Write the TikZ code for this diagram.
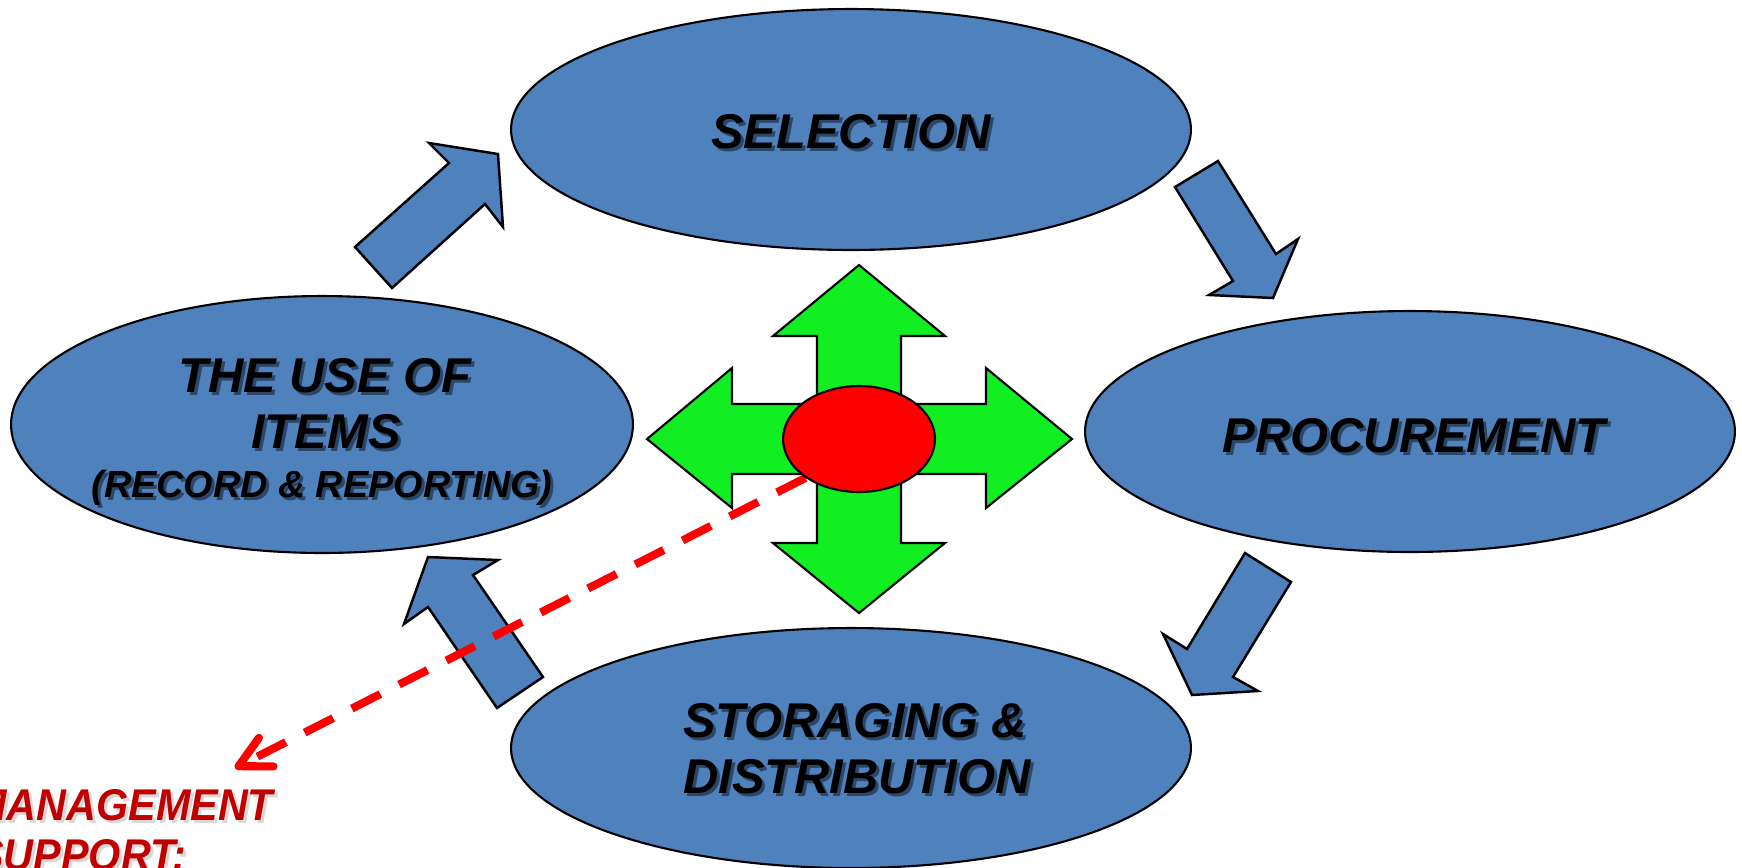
\documentclass[tikz,border=0pt]{standalone}
\usepackage{fontspec}
\setmainfont{Liberation Sans}
\newfontfamily\mgmtfont[FakeStretch=0.93]{Liberation Sans}
\usetikzlibrary{shapes.geometric,arrows.meta}
\definecolor{ovalblue}{RGB}{79,129,189}
\definecolor{crossgreen}{RGB}{17,238,34}
\definecolor{mgmtred}{RGB}{192,0,0}
\newcommand\shlabel[5][0.45]{%
  \node[#4,text=black,text opacity=#1,shift={(3,3)}] at (#3) {#5};
  \node[#4] (#2) at (#3) {#5};}
\tikzset{
  oval/.style={ellipse, draw=black, line width=1.2pt, fill=ovalblue, inner sep=0pt},
  flowarrow/.style={draw=black, line width=1.4pt, fill=ovalblue, line join=miter},
  crossarrow/.style={draw=black, line width=1.2pt, fill=crossgreen, line join=miter},
  core/.style={ellipse, draw=black, line width=1.2pt, fill=red, inner sep=0pt,
    minimum width=3.04cm, minimum height=2.12cm},
  lbl/.style={inner sep=0pt, anchor=base, font=\bfseries\itshape\fontsize{27.8pt}{32pt}\selectfont},
  lblsmall/.style={inner sep=0pt, anchor=base, font=\bfseries\itshape\fontsize{21.5pt}{25pt}\selectfont},
  mgmt/.style={inner sep=0pt, anchor=base west, text=mgmtred, font=\mgmtfont\bfseries\itshape\fontsize{25.3pt}{29pt}\selectfont},
  mgmtline/.style={red, line width=4.6pt, dash pattern=on 0.64cm off 0.42cm,
    -{Straight Barb[length=0.62cm, width=0.64cm, round]}}
}
\begin{document}
\begin{tikzpicture}[x=0.02cm, y=-0.02cm]
\useasboundingbox (0,0) rectangle (1742,867);
\clip (0,0) rectangle (1742,867);

% ovals
\node[oval, minimum width=13.6cm, minimum height=4.82cm] (sel) at (851,129.5) {};
\node[oval, minimum width=12.44cm, minimum height=5.14cm] (use) at (322,424.5) {};
\node[oval, minimum width=13.0cm, minimum height=4.82cm] (proc) at (1410,431.5) {};
\node[oval, minimum width=13.6cm, minimum height=4.8cm] (stor) at (851,748) {};

% cycle arrows
\draw[flowarrow] (355,247) -- (449,163) -- (429,143) -- (498,154) -- (503,227) -- (485,204) -- (392,288) -- cycle;
\draw[flowarrow] (1218,161) -- (1175,187) -- (1233,281) -- (1209,295) -- (1273,298) -- (1298,239) -- (1276,254) -- cycle;
\draw[flowarrow] (1245,553) -- (1291,582) -- (1233,677) -- (1258,691) -- (1192,695) -- (1163,634) -- (1187,649) -- cycle;
\draw[flowarrow] (428,557) -- (498,560) -- (473,575) -- (543,677) -- (497,708) -- (428,607) -- (404,624) -- cycle;

% green four-way arrow
\draw[crossarrow] (859,265) -- (945,336) -- (901,336) -- (901,404) -- (986,404) -- (986,368)
  -- (1072,439) -- (986,508) -- (986,474) -- (901,474) -- (901,543) -- (945,543)
  -- (859,613) -- (773,543) -- (817,543) -- (817,474) -- (732,474) -- (732,508)
  -- (647,439) -- (732,368) -- (732,404) -- (817,404) -- (817,336) -- (773,336) -- cycle;

% red core and dashed connector
\coordinate (corepos) at (859,439);
\coordinate (mgmttip) at (235,768);
\node[core, draw=none, fill=none] (corehelp) at (corepos) {};
\draw[mgmtline] (corehelp.216) -- (mgmttip);
\node[core] (core) at (corepos) {};

% labels
\shlabel{tsel}{851,148}{lbl}{SELECTION}
\shlabel{tproc}{1414,452}{lbl}{PROCUREMENT}
\shlabel{tuse1}{325,392}{lbl}{THE USE OF}
\shlabel{tuse2}{326,448}{lbl}{ITEMS}
\shlabel{tuse3}{322,497}{lblsmall}{(RECORD \& REPORTING)}
\shlabel{tstor1}{855,737}{lbl}{STORAGING \&}
\shlabel{tstor2}{857,793}{lbl}{DISTRIBUTION}
\shlabel[0.15]{tmgmt1}{-28,820}{mgmt}{MANAGEMENT}
\shlabel[0.15]{tmgmt2}{-24,870}{mgmt}{SUPPORT:}
\end{tikzpicture}
\end{document}
